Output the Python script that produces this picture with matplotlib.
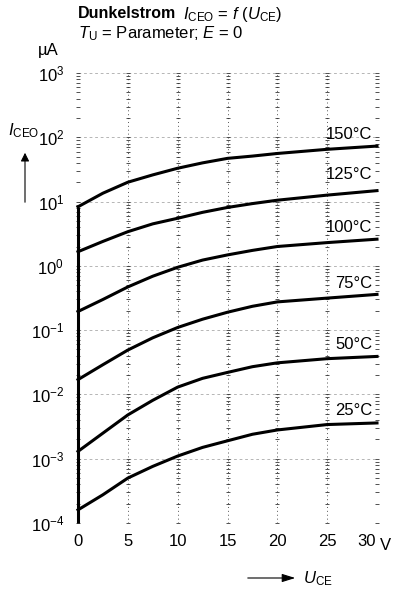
import numpy as np
import matplotlib.pyplot as plt
from matplotlib.patches import FancyArrowPatch
from matplotlib.transforms import ScaledTranslation

plt.rcParams['mathtext.fontset'] = 'custom'
plt.rcParams['mathtext.rm'] = 'Liberation Sans'
plt.rcParams['mathtext.it'] = 'Liberation Sans:italic'

# U_CE in V
u = [0, 2.5, 5, 7.5, 10, 12.5, 15, 17.5, 20, 25, 30]
# I_CEO in uA
i150 = [8.3, 13.5, 20, 26, 33, 40, 47, 51, 56, 65, 73]
i125 = [1.66, 2.4, 3.4, 4.5, 5.5, 6.8, 8.1, 9.3, 10.5, 12.6, 14.8]
i100 = [0.195, 0.30, 0.47, 0.69, 0.95, 1.23, 1.48, 1.74, 2.0, 2.3, 2.6]
i75 = [0.017, 0.029, 0.049, 0.076, 0.11, 0.148, 0.19, 0.235, 0.275, 0.315, 0.36]
i50 = [0.0013, 0.0025, 0.0048, 0.0081, 0.013, 0.0178, 0.022, 0.027, 0.031, 0.036, 0.039]
i25 = [1.6e-4, 2.75e-4, 5.0e-4, 7.6e-4, 1.1e-3, 1.5e-3, 1.9e-3, 2.4e-3, 2.8e-3, 3.4e-3, 3.6e-3]
curves = [i150, i125, i100, i75, i50, i25]
names = ['150°C', '125°C', '100°C', '75°C', '50°C', '25°C']
label_y = [110, 26, 3.9, 0.54, 0.059, 0.0057]

xticks = [0, 5, 10, 15, 20, 25, 30]
xlabels = ['0', '5', '10', '15', '20', '25', '30']
exps = [-4, -3, -2, -1, 0, 1, 2, 3]

font = 'Liberation Sans'

fig = plt.figure(figsize=(3.93, 5.93), dpi=100)
ax = fig.add_axes([78/393, 70/593, 299/393, 450/593])
ax.set_yscale('log')
ax.set_xlim(0, 30)
ax.set_ylim(1e-4, 1e3)
for s in ax.spines.values():
    s.set_visible(False)

# grid: dotted verticals with little marks at the log minors
for x in xticks[1:]:
    ax.axvline(x, color='#555555', lw=0.7, ls=(0, (1, 3)), zorder=1)
for e in exps:
    ax.axhline(10.0**e, color='#999999', lw=0.5, ls=(0, (4, 4)), zorder=1)
minors = [m * 10.0**e for e in exps[:-1] for m in range(1, 10)] + [1e3]
for x in xticks:
    ax.scatter([x] * len(minors), minors, marker='_', s=10, color='#333333',
               lw=0.6, zorder=2, clip_on=False)

# curves
ax.plot([0, 0], [1e-4, i150[0]], color='black', lw=2.2, clip_on=False,
        solid_capstyle='butt', zorder=3)
for c in curves:
    ax.plot(u, c, color='black', lw=2.2, solid_joinstyle='round', zorder=3,
            clip_on=False)
for n, y in zip(names, label_y):
    ax.text(29.5, y, n, ha='right', va='center', fontsize=12, family=font)

ax.set_xticks(xticks)
ax.set_xticklabels(xlabels, family=font, fontsize=12)
ax.set_yticks([10.0**e for e in exps])
ax.set_yticklabels([r'$\mathregular{10^{%d}}$' % e for e in exps],
                   family=font, fontsize=12)
ax.minorticks_off()
ax.tick_params(length=0, pad=8)
ax.tick_params(axis='y', pad=10)
lab30 = ax.get_xticklabels()[-1]
lab30.set_transform(lab30.get_transform() + ScaledTranslation(-10/100, 0, fig.dpi_scale_trans))
fig.text(380/393, 1 - 545/593, 'V', fontsize=12, family=font, va='center')

# texts
fig.text(78/393, 1 - 14/593, 'Dunkelstrom', fontsize=11.5, weight='bold',
         family=font, va='center')
fig.text(183/393, 1 - 14/593, r'$I_{\rm CEO}$ = $f$ ($U_{\rm CE}$)',
         fontsize=12, family=font, va='center')
fig.text(78/393, 1 - 34/593, r'$T_{\rm U}$ = Parameter; $E$ = 0',
         fontsize=12, family=font, va='center')
fig.text(38/393, 1 - 50/593, 'µA', fontsize=12, family=font, va='center')
fig.text(8/393, 1 - 131/593, r'$I_{\rm CEO}$', fontsize=12, family=font,
         va='center')
fig.text(303/393, 1 - 579/593, r'$U_{\rm CE}$', fontsize=12, family=font,
         va='center')
fig.patches.append(FancyArrowPatch(
    (25/393, 1 - 205/593), (25/393, 1 - 150/593), transform=fig.transFigure,
    arrowstyle='-|>,head_length=5,head_width=2.5', color='black', lw=0.8))
fig.patches.append(FancyArrowPatch(
    (245/393, 1 - 578/593), (298/393, 1 - 578/593), transform=fig.transFigure,
    arrowstyle='-|>,head_length=8,head_width=2.5', color='black', lw=0.8))

fig.savefig('out.png', dpi=100)
